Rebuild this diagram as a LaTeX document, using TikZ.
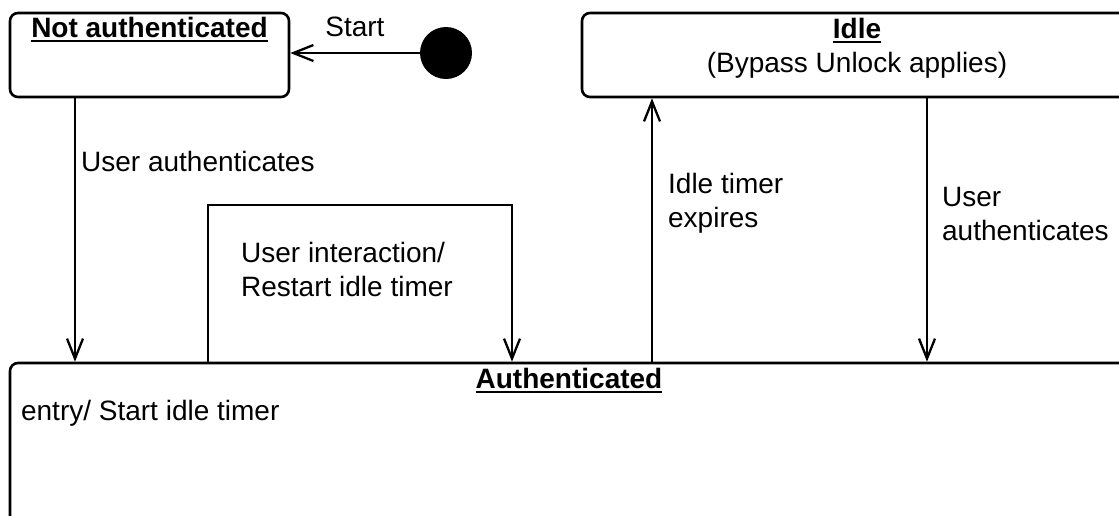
\documentclass[tikz,border=0pt]{standalone}
\usepackage{fontspec}
\setmainfont{Liberation Sans}
\usetikzlibrary{arrows.meta, calc}
\newcommand{\statetitle}[1]{\textbf{\setbox0\hbox{#1}\rlap{\rule[-2.2pt]{\wd0}{1pt}}\box0}}

\begin{document}
\begin{tikzpicture}[x=0.5pt, y=-0.5pt, >={Straight Barb[length=10pt,width=8pt]},
  state/.style={draw, rounded corners=4pt, line width=1.3pt},
  trans/.style={->, line width=1.15pt},
  lbl/.style={align=left, inner sep=0pt}]
\fontsize{14}{17}\selectfont
\useasboundingbox (0,0) rectangle (1119,515);
\clip (0,0) rectangle (1119,515);
% states
\node[state, minimum width=139.5pt, minimum height=42pt] at (149.5, 55) (notauth) {};
\node[state, minimum width=275pt, minimum height=42pt] at (857, 55) (idle) {};
\node[state, minimum width=559pt, minimum height=120pt] at (569, 483) (auth) {};
\node[circle, fill, inner sep=0pt, minimum size=26pt] at (446, 53) (init) {};
\node[lbl, anchor=base] at ($(notauth.north)+(0,26)$) {\statetitle{Not authenticated}};
\node[lbl, anchor=north, align=center] at ($(idle.north)+(0,6)$) {\statetitle{Idle}\\(Bypass Unlock applies)};
\node[lbl, anchor=base] at ($(auth.north)+(0,27)$) {\statetitle{Authenticated}};
\node[lbl, anchor=base west] at ($(auth.north west)+(12,59)$) {entry/ Start idle timer};
% transitions
\draw[trans] (init) -- (init -| notauth.east) node[midway, above=3pt] {Start};
\draw[trans] ([xshift=-37.25pt]notauth.south) -- ([xshift=-37.25pt]notauth.south |- auth.north)
  node[pos=.24, right=2.5pt, lbl] {User authenticates};
\draw[trans] ([xshift=-180.5pt]auth.north) -- ++(0,-157)
  node[pos=.59, right=16pt, lbl] {User interaction/\\Restart idle timer}
  -| ([xshift=-28.5pt]auth.north);
\draw[trans] ([xshift=41.5pt]auth.north) -- ([xshift=41.5pt]auth.north |- idle.south)
  node[pos=.6, right=7.5pt, lbl] {Idle timer\\expires};
\draw[trans] ([xshift=35pt]idle.south) -- ([xshift=35pt]idle.south |- auth.north)
  node[pos=.44, right=7pt, lbl] {User\\authenticates};
\end{tikzpicture}
\end{document}
